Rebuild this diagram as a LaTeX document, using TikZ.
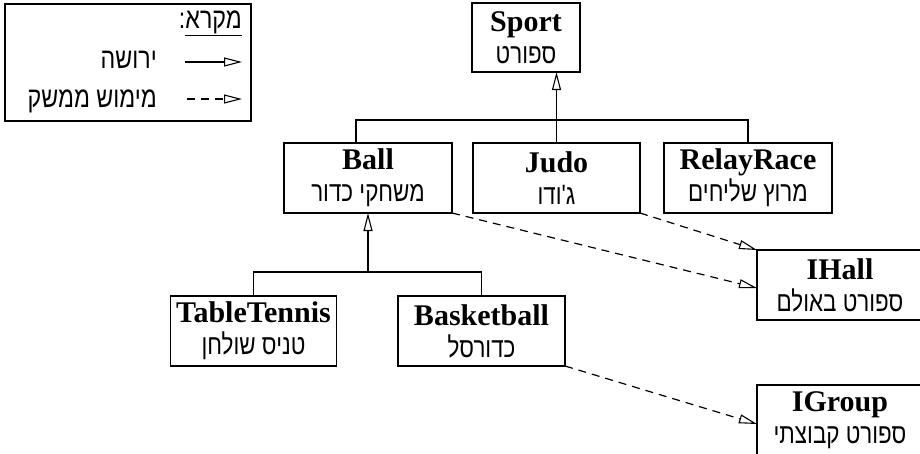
\documentclass[tikz,border=0pt]{standalone}
\usepackage{fontspec}
\setmainfont{Liberation Serif}
\newfontfamily\hebnarrow[Script=Hebrew,FakeStretch=0.8]{Liberation Sans}
\TeXXeTstate=1
\usetikzlibrary{arrows.meta,calc}
\newcommand\hb[1]{{\hebnarrow\beginR #1\endR}}
\newcommand\hbs[1]{{\fontsize{28}{32}\selectfont\hebnarrow\beginR #1\endR}}
\begin{document}
\begin{tikzpicture}[x=1pt,y=-1pt,
  cls/.style={draw, line width=1.4pt, outer sep=0pt, inner sep=0pt, align=center,
    font=\fontsize{30}{32}\selectfont},
  leg/.style={font=\fontsize{29}{32}\selectfont, inner sep=0pt},
  inh/.style={line width=1.2pt, -{Triangle[open, length=18pt, width=9pt, line width=1.1pt]}},
  impl/.style={inh, dash pattern=on 8pt off 6pt},
  conn/.style={line width=1.2pt}]
\useasboundingbox (0,0) rectangle (920,453);
% legend
\node[draw, line width=1.4pt, minimum width=246pt, minimum height=117pt, inner sep=0pt] (legend) at (128,62.5) {};
\node[leg, anchor=base east] (legtitle) at (242,28) {\hb{\underline{מקרא}:}};
\node[leg, anchor=base east] (leginh) at (157,68) {\hb{ירושה}};
\node[leg, anchor=base east] (legimpl) at (157,107) {\hb{מימוש ממשק}};
\coordinate (li1) at (185,62); \coordinate (li2) at (242,62);
\coordinate (lm1) at (187,99); \coordinate (lm2) at (242,99);
\draw[inh] (li1) -- (li2);
\draw[impl] (lm1) -- (lm2);
% classes
\node[cls, minimum width=108pt, minimum height=69pt] (sport) at (526,37.5) {\textbf{Sport}\\\hbs{ספורט}};
\node[cls, minimum width=168pt, minimum height=70pt] (ball) at (368,178) {\textbf{Ball}\\\hbs{משחקי כדור}};
\node[cls, minimum width=167pt, minimum height=70pt] (judo) at (556.5,178) {\textbf{Judo}\\\hbs{ג'ודו}};
\node[cls, minimum width=168pt, minimum height=70pt] (relay) at (748,178) {\textbf{RelayRace}\\\hbs{מרוץ שליחים}};
\node[cls, minimum width=166pt, minimum height=70pt] (ihall) at (840,285) {\textbf{IHall}\\\hbs{ספורט באולם}};
\node[cls, minimum width=166pt, minimum height=70pt] (tt) at (253.5,331) {\textbf{TableTennis}\\\hbs{טניס שולחן}};
\node[cls, minimum width=167pt, minimum height=70pt] (bb) at (481.5,331) {\textbf{Basketball}\\\hbs{כדורסל}};
\node[cls, minimum width=166pt, minimum height=70pt] (igroup) at (840,420) {\textbf{IGroup}\\\hbs{ספורט קבוצתי}};
% inheritance
\coordinate (bus1) at (557,120);
\draw[conn] ([xshift=-12pt]ball.north) |- (bus1) -| (relay.north);
\draw[inh] (judo.north) -- (judo.north |- sport.south);
\coordinate (bus2) at (368,272);
\draw[conn] (tt.north) |- (bus2) -| (bb.north);
\draw[inh] (bus2) -- (ball.south);
% implementation
\draw[impl] (ball.south east) -- ([yshift=-3pt]ihall.west);
\draw[impl] (judo.south east) -- (ihall.north west);
\draw[impl] (bb.south east) -- ([yshift=-4pt]igroup.west);
\end{tikzpicture}
\end{document}
